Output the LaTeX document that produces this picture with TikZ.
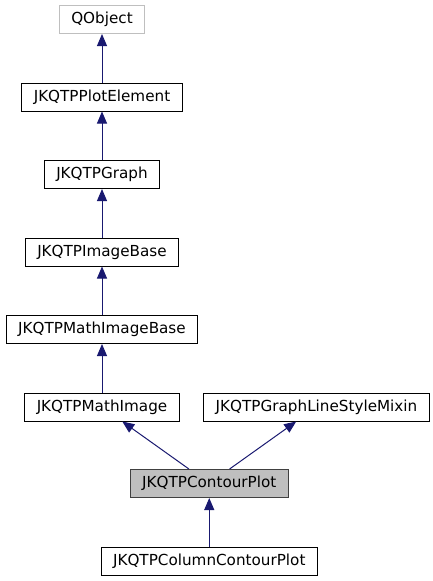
\documentclass[tikz,border=0pt]{standalone}
\usepackage{fontspec}
\setmainfont{DejaVu Sans}
\usetikzlibrary{arrows.meta,positioning,calc}
\definecolor{Edge}{HTML}{191970}
\definecolor{Frame}{HTML}{000000}
\definecolor{Faint}{HTML}{BFBFBF}
\definecolor{Shade}{HTML}{BFBFBF}
\definecolor{Dark}{HTML}{404040}
\tikzset{
  klass/.style={draw=Frame,fill=white,line width=1pt,minimum height=28pt,inner xsep=12pt,inner ysep=0pt,font=\fontsize{15.2}{18}\selectfont},
  extern/.style={klass,draw=Faint},
  current/.style={klass,draw=Dark,fill=Shade},
  inherit/.style={-{Triangle[length=12pt,width=10pt]},line width=1pt,draw=Edge}
}
\begin{document}
\begin{tikzpicture}[x=1pt,y=-1pt,node distance=48.5pt]
  \useasboundingbox (0,0) rectangle (433,581);
  \node[extern] (qobject) at (102,19.5) {QObject};
  \node[klass,below=of qobject] (plotelement) {JKQTPPlotElement};
  \node[klass,below=of plotelement] (graph) {JKQTPGraph};
  \node[klass,below=of graph] (imagebase) {JKQTPImageBase};
  \node[klass,below=of imagebase] (mathimagebase) {JKQTPMathImageBase};
  \node[klass,below=of mathimagebase] (mathimage) {JKQTPMathImage};
  \node[klass,right=23.5pt of mathimage] (mixin) {JKQTPGraphLineStyleMixin};
  \coordinate (mid) at ($(mathimage.south)!0.5!(mixin.south)$);
  \node[current,below=47.5pt of mid] (contour) {JKQTPContourPlot};
  \node[klass,below=of contour] (column) {JKQTPColumnContourPlot};

  \draw[inherit] (plotelement) -- (qobject);
  \draw[inherit] (graph) -- (plotelement);
  \draw[inherit] (imagebase) -- (graph);
  \draw[inherit] (mathimagebase) -- (imagebase);
  \draw[inherit] (mathimage) -- (mathimagebase);
  \draw[inherit] (contour) -- (mathimage);
  \draw[inherit] (contour) -- (mixin);
  \draw[inherit] (column) -- (contour);
\end{tikzpicture}
\end{document}
